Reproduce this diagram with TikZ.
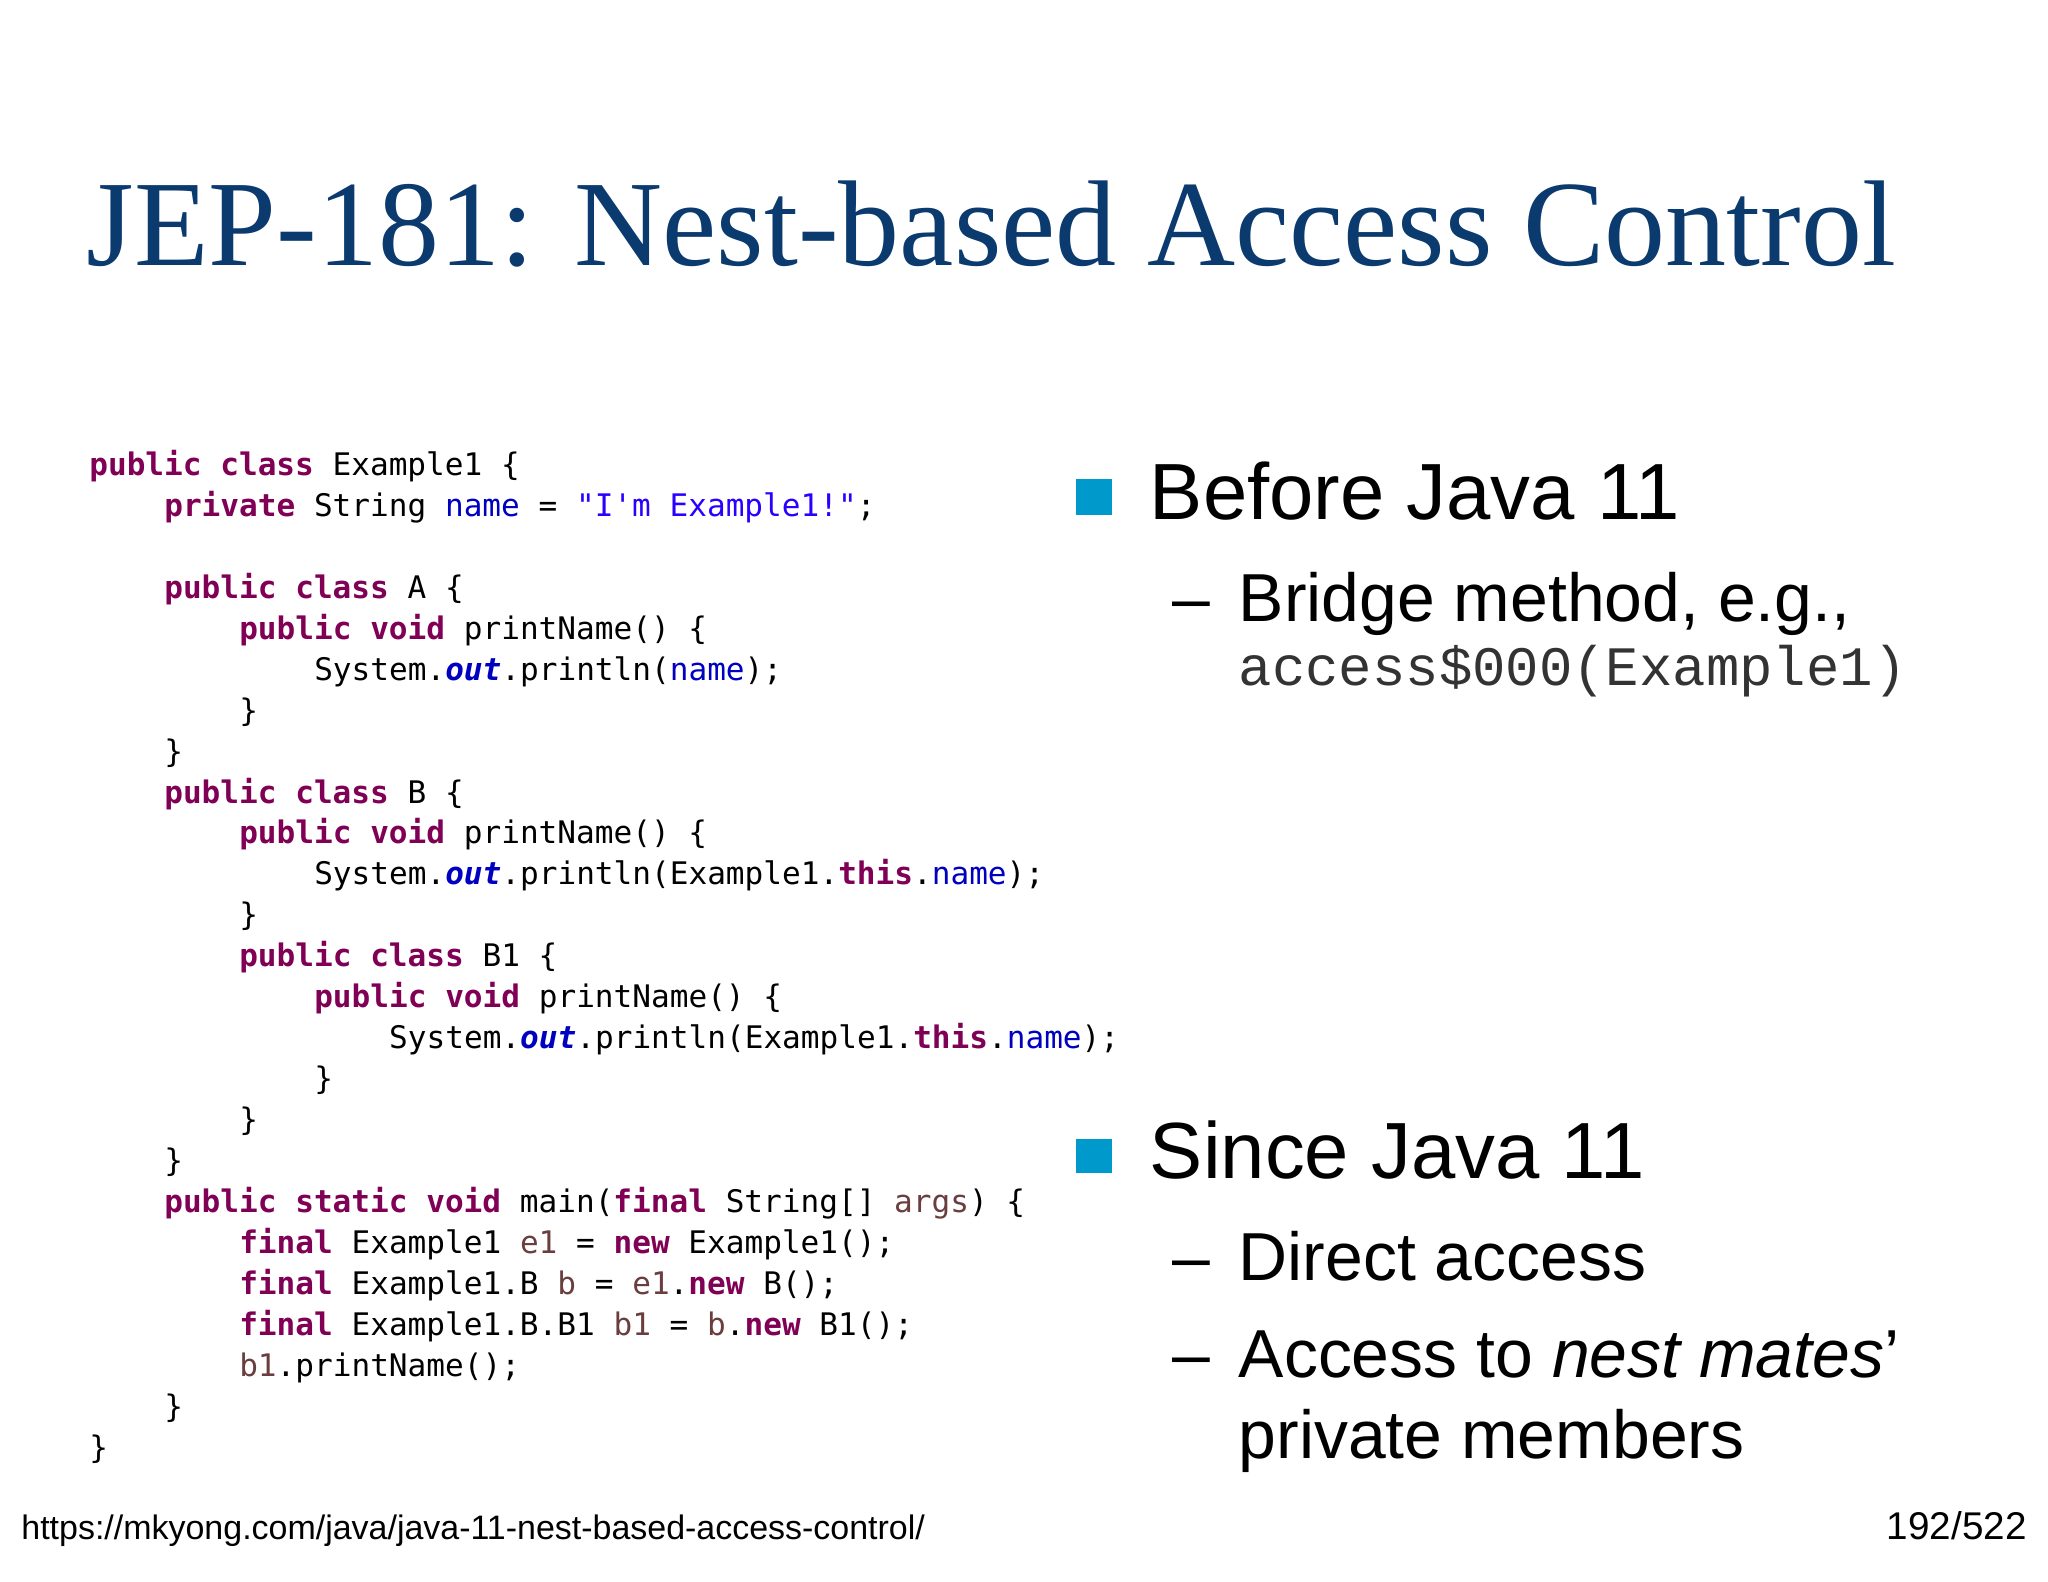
\documentclass[tikz,border=0pt]{standalone}
\usepackage{fontspec}
\setmainfont{Liberation Serif}
\setsansfont{Liberation Sans}
\setmonofont{DejaVu Sans Mono}
\newfontfamily\cour{Liberation Mono}
\definecolor{titleblue}{HTML}{0B3A6E}
\definecolor{kwc}{HTML}{7F0055}
\definecolor{fldc}{HTML}{0000C0}
\definecolor{strc}{HTML}{2A00FF}
\definecolor{locc}{HTML}{6A3E3E}
\definecolor{bulc}{HTML}{0099CC}
\newcommand{\kw}[1]{\textcolor{kwc}{\bfseries #1}}
\newcommand{\fld}[1]{\textcolor{fldc}{#1}}
\newcommand{\fldi}[1]{\textcolor{fldc}{\bfseries\itshape #1}}
\newcommand{\strg}[1]{\textcolor{strc}{#1}}
\newcommand{\loc}[1]{\textcolor{locc}{#1}}
\tikzset{
 code/.style={anchor=base west,inner sep=0pt,font=\fontsize{11.9pt}{13pt}\ttfamily,text=black},
 big/.style={anchor=base west,inner sep=0pt,font=\sffamily\fontsize{30.5pt}{34pt}\selectfont},
 sub/.style={anchor=base west,inner sep=0pt,font=\sffamily\fontsize{26pt}{30pt}\selectfont},
 bul/.style={fill=bulc,draw=none}
}
\begin{document}
\begin{tikzpicture}[x=0.5pt,y=-0.5pt]
\useasboundingbox (0,0) rectangle (1568,1211);
\node[anchor=base west,inner sep=0pt,text=titleblue,font=\fontsize{46.7pt}{52pt}\selectfont] (title) at (66,203) {JEP-181: Nest-based Access Control};
\def\ind{57.4}
\def\ly#1{364+31.35*(#1-1)}
\node[code] (c1) at (68,{\ly{1}}) {\kw{public class} Example1 \{};
\node[code] (c2) at ({68+\ind},{\ly{2}}) {\kw{private} String \fld{name} = \strg{"I'm Example1!"};};
\node[code] (c4) at ({68+\ind},{\ly{4}}) {\kw{public class} A \{};
\node[code] (c5) at ({68+2*\ind},{\ly{5}}) {\kw{public void} printName() \{};
\node[code] (c6) at ({68+3*\ind},{\ly{6}}) {System.\fldi{out}.println(\fld{name});};
\node[code] (c7) at ({68+2*\ind},{\ly{7}}) {\}};
\node[code] (c8) at ({68+\ind},{\ly{8}}) {\}};
\node[code] (c9) at ({68+\ind},{\ly{9}}) {\kw{public class} B \{};
\node[code] (c10) at ({68+2*\ind},{\ly{10}}) {\kw{public void} printName() \{};
\node[code] (c11) at ({68+3*\ind},{\ly{11}}) {System.\fldi{out}.println(Example1.\kw{this}.\fld{name});};
\node[code] (c12) at ({68+2*\ind},{\ly{12}}) {\}};
\node[code] (c13) at ({68+2*\ind},{\ly{13}}) {\kw{public class} B1 \{};
\node[code] (c14) at ({68+3*\ind},{\ly{14}}) {\kw{public void} printName() \{};
\node[code] (c15) at ({68+4*\ind},{\ly{15}}) {System.\fldi{out}.println(Example1.\kw{this}.\fld{name});};
\node[code] (c16) at ({68+3*\ind},{\ly{16}}) {\}};
\node[code] (c17) at ({68+2*\ind},{\ly{17}}) {\}};
\node[code] (c18) at ({68+\ind},{\ly{18}}) {\}};
\node[code] (c19) at ({68+\ind},{\ly{19}}) {\kw{public static void} main(\kw{final} String[] \loc{args}) \{};
\node[code] (c20) at ({68+2*\ind},{\ly{20}}) {\kw{final} Example1 \loc{e1} = \kw{new} Example1();};
\node[code] (c21) at ({68+2*\ind},{\ly{21}}) {\kw{final} Example1.B \loc{b} = \loc{e1}.\kw{new} B();};
\node[code] (c22) at ({68+2*\ind},{\ly{22}}) {\kw{final} Example1.B.B1 \loc{b1} = \loc{b}.\kw{new} B1();};
\node[code] (c23) at ({68+2*\ind},{\ly{23}}) {\loc{b1}.printName();};
\node[code] (c24) at ({68+\ind},{\ly{24}}) {\}};
\node[code] (c25) at (68,{\ly{25}}) {\}};
% right column
\fill[bul] (824,367) rectangle (851,394);
\node[big] (b1) at (880,398) {Before Java 11};
\node[sub] (d1) at (897,476) {–};
\node[sub] (s1) at (948,476) {Bridge method, e.g.,};
\node[anchor=base west,inner sep=0pt,text=black!80,font=\cour\fontsize{21.3pt}{24pt}\selectfont] (s1b) at (948,525) {access\$000(Example1)};
\fill[bul] (824,872) rectangle (851,898);
\node[big] (b2) at (880,902) {Since Java 11};
\node[sub] (d2) at (897,980) {–};
\node[sub] (s2) at (948,980) {Direct access};
\node[sub] (d3) at (897,1055) {–};
\node[sub] (s3) at (948,1055) {Access to \textit{nest mates}’};
\node[sub] (s3b) at (948,1117) {private members};
% footer
\node[anchor=base west,inner sep=0pt,font=\sffamily\fontsize{13pt}{15pt}\selectfont] (url) at (16,1179) {https://mkyong.com/java/java-11-nest-based-access-control/};
\node[anchor=base east,inner sep=0pt,font=\sffamily\fontsize{14.8pt}{17pt}\selectfont] (pg) at (1552,1179) {192/522};
\end{tikzpicture}
\end{document}
